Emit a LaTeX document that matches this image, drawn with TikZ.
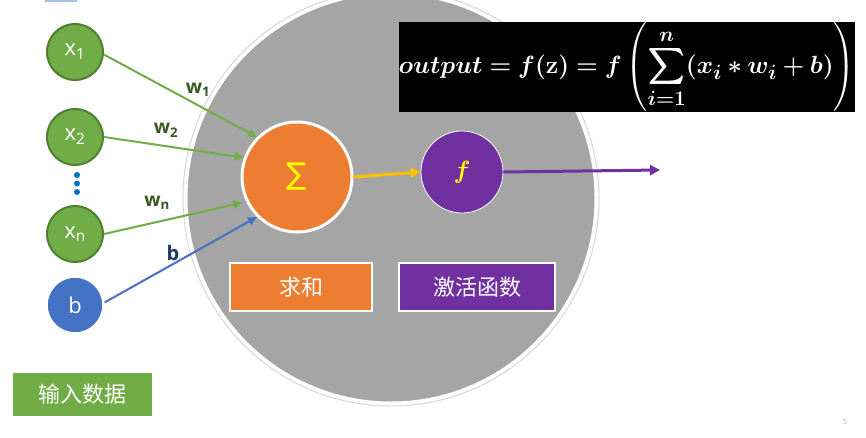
\documentclass[tikz,border=0pt]{standalone}
\usepackage[no-math]{fontspec}
\setmainfont{Open Sans}
\newfontfamily\cjk{Noto Sans CJK SC}
\newfontfamily\symb{DejaVu Sans}
\usepackage{amsmath,bm}
\usetikzlibrary{arrows.meta}

\definecolor{ingreen}{RGB}{112,173,71}
\definecolor{indark}{RGB}{80,126,50}
\definecolor{wgreen}{RGB}{56,87,35}
\definecolor{bblue}{RGB}{68,114,196}
\definecolor{bdark}{RGB}{31,56,100}
\definecolor{sumorange}{RGB}{237,125,49}
\definecolor{actpurple}{RGB}{112,48,160}
\definecolor{cellgray}{RGB}{165,165,165}
\definecolor{sumyellow}{RGB}{255,192,0}

\begin{document}
\begin{tikzpicture}[x=1pt,y=1pt,yscale=-1,xscale=1,
  incircle/.style={circle,fill=ingreen,draw=indark,line width=2pt,minimum size=56pt,inner sep=0pt,text=white,font=\fontsize{22}{24}\selectfont},
  wlabel/.style={text=wgreen,font=\bfseries\fontsize{19}{22}\selectfont},
  tagbox/.style={draw=white,line width=2.5pt,minimum height=48pt,text=white,font=\cjk\fontsize{22}{26}\selectfont},
  garrow/.style={draw=ingreen,line width=2pt,-{Triangle[length=9pt,width=8pt]}},
]
\useasboundingbox (0,0) rectangle (866,437);
\fill[white] (0,0) rectangle (866,437);
\fill[color={rgb,255:red,157;green,195;blue,230}] (45,0) rectangle (77,2);

% cell body
\draw[color={rgb,255:red,215;green,215;blue,215},line width=1pt] (391,198) circle [radius=208];
\draw[fill=cellgray,draw=white,line width=3pt] (391,198) circle [radius=205];

% inputs
\node[incircle] (x1) at (75,52) {x\textsubscript{1}};
\node[incircle] (x2) at (75,137) {x\textsubscript{2}};
\node[incircle] (xn) at (75,234) {x\textsubscript{n}};
\node[circle,fill=bblue,draw=white,line width=2.5pt,minimum size=57pt,inner sep=0pt,text=white,font=\fontsize{22}{24}\selectfont] (b) at (75,305) {b};
\foreach \y in {175,183.5,192}
  \fill[color={rgb,255:red,0;green,112;blue,192}] (77,\y) circle [radius=3];

% neuron
\node[circle,fill=sumorange,draw=white,line width=3pt,minimum size=110pt,inner sep=0pt,text={rgb,255:red,255;green,255;blue,0},font=\symb\fontsize{30}{32}\selectfont] (sum) at (297,177) {∑};
\node[circle,fill=actpurple,draw=white,line width=0.8pt,minimum size=82pt,inner sep=0pt,text={rgb,255:red,255;green,255;blue,0},font=\fontsize{30}{32}\selectfont] (act) at (462,172) {$\bm{f}$};
\coordinate (out) at (660,170);

\draw[garrow] (x1.-5) -- (sum.135);
\draw[garrow] (x2.east) -- (sum.160);
\draw[garrow,shorten >=4pt] (xn.east) -- (sum.206);
\draw[draw=bblue,line width=2pt,-{Triangle[length=9pt,width=8pt]}] (b.5) -- (sum.225);
\draw[draw=sumyellow,line width=3pt,-{Triangle[length=10pt,width=10pt]}] (sum.east) -- (act.west);
\draw[draw=actpurple,line width=3pt,-{Triangle[length=10pt,width=10pt]}] (act.east) -- (out);

% weights
\node[wlabel] (w1) at (198,90) {w\textsubscript{1}};
\node[wlabel] (w2) at (166,130) {w\textsubscript{2}};
\node[wlabel] (wn) at (157,203) {w\textsubscript{n}};
\node[text=bdark,font=\bfseries\fontsize{20}{22}\selectfont] (bl) at (173,253) {b};

% tags
\node[tagbox,fill=sumorange,minimum width=142pt] (sumtag) at (301,287) {求和};
\node[tagbox,fill=actpurple,minimum width=156pt] (acttag) at (477,287) {激活函数};
\node[tagbox,fill=ingreen,minimum width=141pt,minimum height=45pt] (intag) at (82.5,394.5) {输入数据};

% formula
\node[fill=black,minimum width=456pt,minimum height=90pt,inner sep=0pt,text=white] (formula) at (627,67)
  {\fontsize{24.88}{30}\selectfont$\displaystyle\bm{output = f(\mathbf{z}) = f\left(\sum_{i=1}^{n}(x_i * w_i + b)\right)}$};

\node[text={rgb,255:red,170;green,170;blue,170},font=\fontsize{7}{8}\selectfont] (page) at (845,422) {5};

\end{tikzpicture}
\end{document}
